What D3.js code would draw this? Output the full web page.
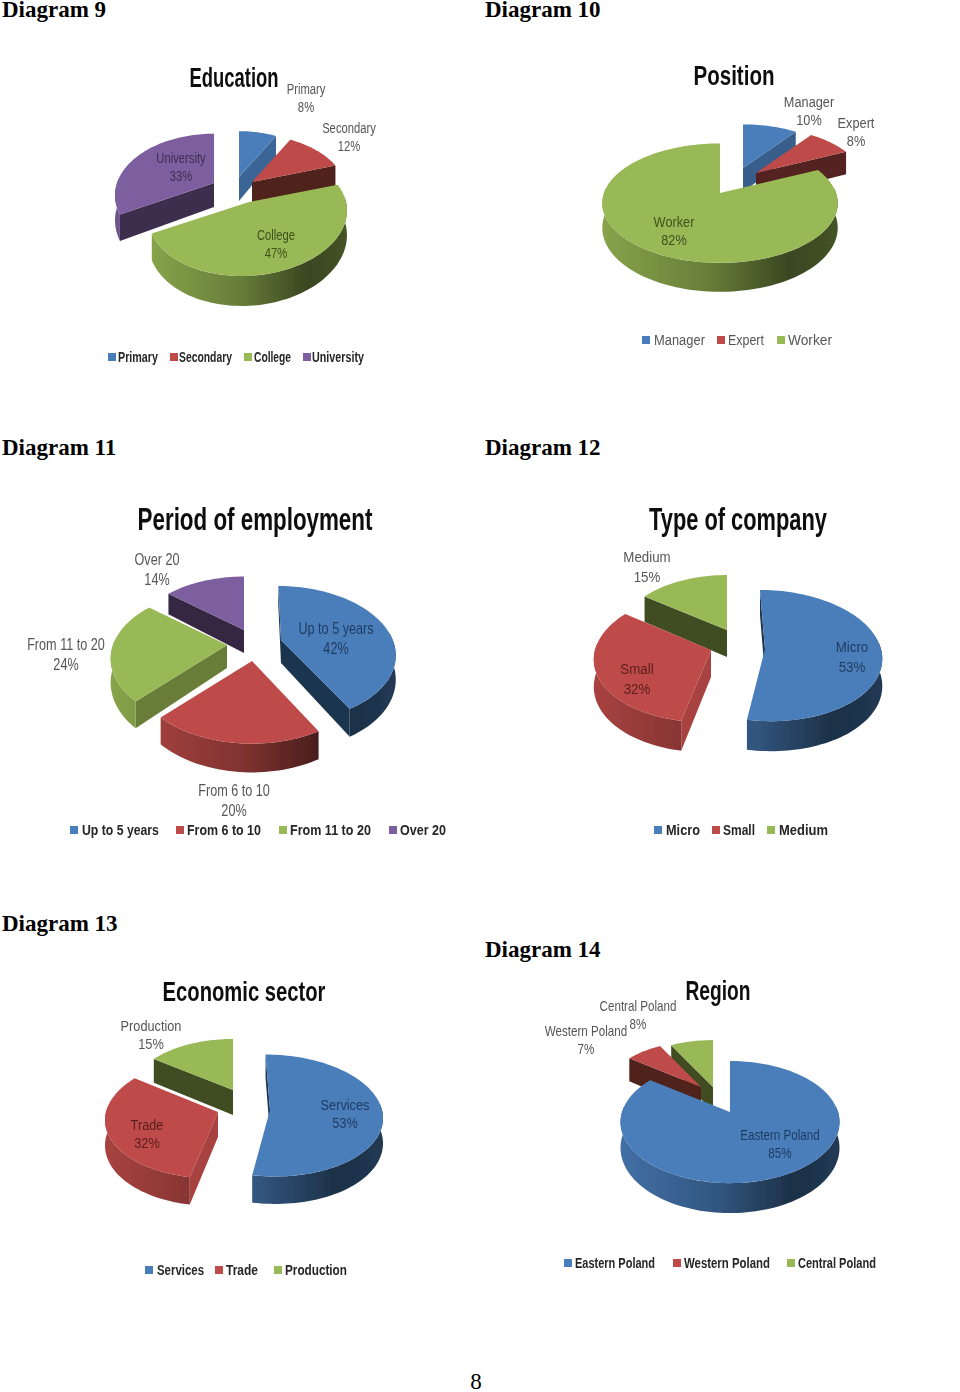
<!DOCTYPE html>
<html>
<head>
<meta charset="utf-8">
<script src="https://cdn.jsdelivr.net/npm/d3@7/dist/d3.min.js"></script>
<style>
  html, body { margin: 0; padding: 0; background: #fff; }
  svg { display: block; }
  .chart { font-family: "Liberation Sans", sans-serif; }
  .heading { font-family: "Liberation Serif", serif; }
</style>
</head>
<body>
<script>
// Values
const educationLabels = ["Primary", "Secondary", "College", "University"];
const educationValues = [8, 12, 47, 33];

const positionLabels = ["Manager", "Expert", "Worker"];
const positionValues = [10, 8, 82];

const periodLabels = ["Up to 5 years", "From 6 to 10", "From 11 to 20", "Over 20"];
const periodValues = [42, 20, 24, 14];

const companyLabels = ["Micro", "Small", "Medium"];
const companyValues = [53, 32, 15];

const sectorLabels = ["Services", "Trade", "Production"];
const sectorValues = [53, 32, 15];

const regionLabels = ["Eastern Poland", "Western Poland", "Central Poland"];
const regionValues = [85, 7, 8];

const pieColors = ["#4a7ebb", "#be4b48", "#98b954", "#7d5fa0"];
const labelDark = ["#1f3a5f", "#5a1f1d", "#41521f", "#3c2f50"];

// Layout of each chart, apart from the values
const charts = [
  { heading: "Diagram 9", headX: 2, headY: 17, title: "Education", titleX: 234, titleY: 87, titleW: 89, titleSize: 27,
    labels: educationLabels, values: educationValues,
    R: 97, k: 0.61, p: 0.2, depth: 24,
    apex: [[239, 177], [252, 182], [249, 202], [214, 183]],
    scale: [0.93, 0.96, 1, 1],
    lean: [0, 0, -0.1, 0],
    labelPos: [[306, 94], [349, 133], [276, 240], [181, 163]], labelGap: 18, labelSize: 15, labelFit: 0.75,
    inside: [false, false, true, true],
    legendY: 357, legendX: [[108, 118, 158], [170, 179, 232], [244, 254, 291], [303, 312, 364]], legendWeight: "bold" },
  { heading: "Diagram 10", headX: 485, headY: 17, title: "Position", titleX: 734, titleY: 85, titleW: 81, titleSize: 27,
    labels: positionLabels, values: positionValues,
    R: 116, k: 0.5, p: 0.17, depth: 24,
    apex: [[743, 168], [756, 173], [720, 193]],
    scale: [0.88, 0.92, 1],
    lean: [0, 0, 0],
    labelPos: [[809, 107], [856, 128], [674, 227]], labelGap: 18, labelSize: 15, labelFit: 0.85,
    inside: [false, false, true],
    legendY: 340, legendX: [[642, 654, 705], [717, 728, 764], [777, 788, 832]], legendWeight: "normal" },
  { heading: "Diagram 11", headX: 2, headY: 455, title: "Period of employment", titleX: 255, titleY: 530, titleW: 235, titleSize: 31,
    labels: periodLabels, values: periodValues,
    R: 114, k: 0.58, p: 0.2, depth: 23,
    apex: [[281, 640], [252, 661], [227, 645], [244, 630]],
    scale: [0.98, 1, 1, 0.97],
    lean: [0.05, 0, 0, 0],
    labelPos: [[336, 634], [234, 796], [66, 650], [157, 565]], labelGap: 20, labelSize: 16, labelFit: 0.79,
    inside: [true, false, false, false],
    legendY: 830, legendX: [[70, 82, 159], [176, 187, 261], [279, 290, 371], [389, 400, 446]], legendWeight: "bold" },
  { heading: "Diagram 12", headX: 485, headY: 455, title: "Type of company", titleX: 738, titleY: 530, titleW: 178, titleSize: 31,
    labels: companyLabels, values: companyValues,
    R: 116, k: 0.56, p: 0.1, depth: 27,
    apex: [[765, 649], [711, 650], [727, 630]],
    scale: [1, 1, 0.93],
    lean: [0.085, -0.08, 0],
    labelPos: [[852, 652], [637, 674], [647, 562]], labelGap: 20, labelSize: 15.5, labelFit: 0.86,
    inside: [true, true, false],
    legendY: 830, legendX: [[654, 666, 700], [712, 723, 755], [767, 779, 828]], legendWeight: "bold" },
  { heading: "Diagram 13", headX: 2, headY: 931, title: "Economic sector", titleX: 244, titleY: 1001, titleW: 163, titleSize: 28,
    labels: sectorLabels, values: sectorValues,
    R: 112, k: 0.54, p: 0.09, depth: 25,
    apex: [[270, 1110], [218, 1112], [233, 1090]],
    scale: [1, 1, 0.92],
    lean: [0.08, -0.08, 0],
    labelPos: [[345, 1110], [147, 1130], [151, 1031]], labelGap: 18, labelSize: 15, labelFit: 0.85,
    inside: [true, true, false],
    legendY: 1270, legendX: [[145, 157, 204], [215, 226, 258], [274, 285, 347]], legendWeight: "bold" },
  { heading: "Diagram 14", headX: 485, headY: 957, title: "Region", titleX: 718, titleY: 1000, titleW: 65, titleSize: 27,
    labels: regionLabels, values: regionValues,
    R: 108, k: 0.55, p: 0.165, depth: 25,
    apex: [[730, 1112], [701, 1087], [713, 1087]],
    scale: [1, 0.9, 0.92],
    lean: [0, 0, 0],
    labelPos: [[780, 1140], [586, 1036], [638, 1011]], labelGap: 18, labelSize: 14, labelFit: 0.83,
    inside: [true, false, false],
    legendY: 1263, legendX: [[564, 575, 655], [673, 684, 770], [787, 798, 876]], legendWeight: "bold" }
];

const svg = d3.select("body").append("svg")
  .attr("width", 960)
  .attr("height", 1392)
  .attr("viewBox", "0 0 960 1392");

const defs = svg.append("defs");

// Source picture is a soft scan, so the charts get a very small blur
defs.append("filter").attr("id", "soft")
  .attr("x", "-5%").attr("y", "-5%").attr("width", "110%").attr("height", "110%")
  .append("feGaussianBlur").attr("stdDeviation", 0.45);

svg.append("rect").attr("width", 960).attr("height", 1392).attr("fill", "#fff");

const line = d3.line();
const darken = (color, amount) => d3.interpolateRgb("#000", color)(amount);
const step = Math.PI / 90;

// Chart text is a narrow face in the source, squeeze the installed one to fit
function place(sel, x, y, factor) {
  sel.attr("transform", `translate(${x},${y}) scale(${factor},1)`);
}
const natural = sel => sel.node().getComputedTextLength();

charts.forEach((chart, chartIndex) => {
  // Page heading
  svg.append("text")
    .attr("class", "heading")
    .attr("x", chart.headX)
    .attr("y", chart.headY)
    .attr("font-size", 23)
    .attr("font-weight", "bold")
    .attr("fill", "#000")
    .text(chart.heading);

  const g = svg.append("g").attr("class", "chart").attr("filter", "url(#soft)");

  // Title
  const title = g.append("text")
    .attr("text-anchor", "middle")
    .attr("font-size", chart.titleSize)
    .attr("font-weight", "bold")
    .attr("fill", "#0d0d0d")
    .text(chart.title);
  place(title, chart.titleX, chart.titleY, chart.titleW / natural(title));

  const pie = d3.pie().sort(null).value(d => d);
  const arcs = pie(chart.values);

  // Perspective view of a disc: a is clockwise from 12 o'clock, r 0..1, z 0 (top) or 1 (bottom)
  const project = (i, a, r, z) => {
    const s0 = chart.scale[i];
    const x = r * Math.sin(a);
    const y = -r * Math.cos(a);
    const s = 1 / (1 - chart.p * y);
    const down = chart.R * s0 * chart.k * y;
    return [
      chart.apex[i][0] + (chart.R * s0 * x + chart.lean[i] * down) * s,
      chart.apex[i][1] + (down + chart.depth * z) * s
    ];
  };

  const anglesBetween = (a0, a1) => d3.range(a0, a1, step).concat([a1]);

  const slices = arcs.map((d, i) => {
    const mid = (d.startAngle + d.endAngle) / 2;
    return { d, i, order: project(i, mid, 0.6, 0)[1] };
  }).sort((a, b) => d3.ascending(a.order, b.order));

  slices.forEach(({ d, i }) => {
    const color = pieColors[i];
    const a0 = d.startAngle;
    const a1 = d.endAngle;

    // Cut faces: lit from the right, faces turned away from the viewer are skipped
    const face = (a, normal) => {
      if (-Math.cos(normal) < -0.01) return;
      const nx = Math.sin(normal);
      const shade = 0.42 + Math.max(0, nx - 0.4) * 0.8;
      const pts = [project(i, 0, 0, 0), project(i, a, 1, 0), project(i, a, 1, 1), project(i, 0, 0, 1)];
      g.append("path")
        .attr("d", line(pts) + "Z")
        .attr("fill", darken(color, shade));
    };
    face(a0, a0 - Math.PI / 2);
    face(a1, a1 + Math.PI / 2);

    // Outer rim, only the front part shows
    const rimStart = Math.max(a0, Math.PI * 0.47);
    const rimEnd = Math.min(a1, Math.PI * 1.53);
    if (rimEnd > rimStart) {
      const gradId = `rim-${chartIndex}-${i}`;
      const grad = defs.append("linearGradient")
        .attr("id", gradId)
        .attr("gradientUnits", "userSpaceOnUse")
        .attr("x1", chart.apex[i][0] - chart.R)
        .attr("x2", chart.apex[i][0] + chart.R)
        .attr("y1", 0).attr("y2", 0);
      grad.append("stop").attr("offset", 0).attr("stop-color", darken(color, 0.88));
      grad.append("stop").attr("offset", 0.45).attr("stop-color", darken(color, 0.68));
      grad.append("stop").attr("offset", 0.8).attr("stop-color", darken(color, 0.38));
      grad.append("stop").attr("offset", 1).attr("stop-color", darken(color, 0.45));

      const angles = anglesBetween(rimStart, rimEnd);
      const pts = angles.map(a => project(i, a, 1, 0))
        .concat(angles.slice().reverse().map(a => project(i, a, 1, 1)));
      g.append("path")
        .attr("d", line(pts) + "Z")
        .attr("fill", `url(#${gradId})`);
    }

    // Top face
    const top = [project(i, 0, 0, 0)].concat(anglesBetween(a0, a1).map(a => project(i, a, 1, 0)));
    g.append("path")
      .attr("d", line(top) + "Z")
      .attr("fill", color);
  });

  // Data labels, name over percentage
  chart.labels.forEach((label, i) => {
    const pos = chart.labelPos[i];
    const fill = chart.inside[i] ? labelDark[i] : "#565656";
    [label, chart.values[i] + "%"].forEach((str, row) => {
      const t = g.append("text")
        .attr("text-anchor", "middle")
        .attr("font-size", chart.labelSize)
        .attr("fill", fill)
        .text(str);
      place(t, pos[0], pos[1] + row * chart.labelGap, chart.labelFit);
    });
  });

  // Legend
  chart.labels.forEach((label, i) => {
    const [sx, tx, te] = chart.legendX[i];
    g.append("rect")
      .attr("x", sx)
      .attr("y", chart.legendY - 4)
      .attr("width", 8)
      .attr("height", 8)
      .attr("fill", pieColors[i]);
    const t = g.append("text")
      .attr("font-size", 14.5)
      .attr("font-weight", chart.legendWeight)
      .attr("fill", chart.legendWeight === "bold" ? "#262626" : "#565656")
      .text(label);
    place(t, tx, chart.legendY + 5, (te - tx) / natural(t));
  });
});

// Page number
svg.append("text")
  .attr("class", "heading")
  .attr("x", 476)
  .attr("y", 1389)
  .attr("text-anchor", "middle")
  .attr("font-size", 23)
  .attr("fill", "#000")
  .text("8");
</script>
</body>
</html>
